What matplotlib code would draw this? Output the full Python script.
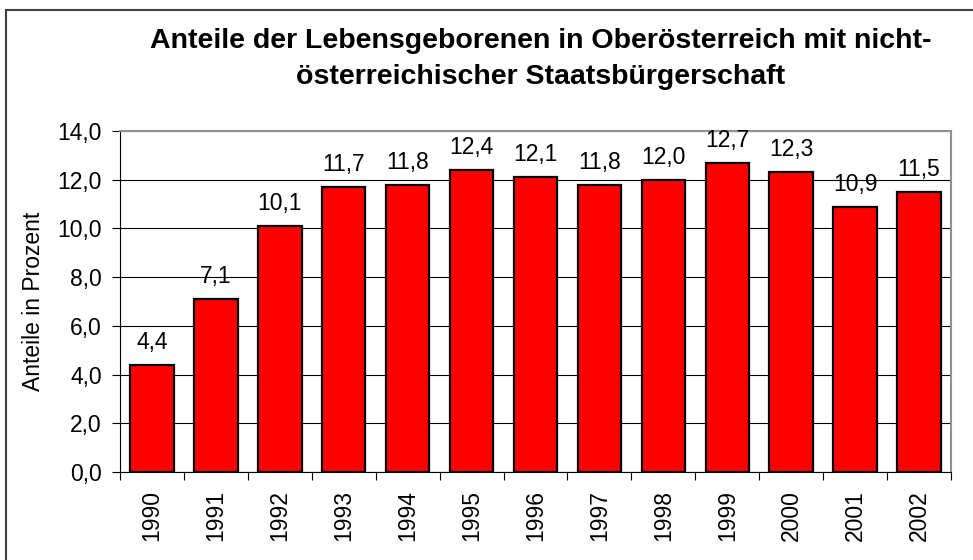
import numpy as np
import matplotlib
matplotlib.use('Agg')
import matplotlib.pyplot as plt
from matplotlib.lines import Line2D

plt.rcParams['font.family'] = ['Liberation Sans', 'DejaVu Sans']

years = ['1990', '1991', '1992', '1993', '1994', '1995', '1996',
         '1997', '1998', '1999', '2000', '2001', '2002']
anteile = [4.4, 7.1, 10.1, 11.7, 11.8, 12.4, 12.1, 11.8, 12.0, 12.7, 12.3, 10.9, 11.5]
yticks = [0, 2, 4, 6, 8, 10, 12, 14]

title = ('Anteile der Lebensgeborenen in Oberösterreich mit nicht-\n'
         'österreichischer Staatsbürgerschaft')


def komma(v):
    return f'{v:.1f}'.replace('.', ',')


fs = 16.5

fig = plt.figure(figsize=(9.73, 5.6), dpi=100)
ax = fig.add_axes([0.1233, 0.1571, 0.8541, 0.6089])

x = np.arange(len(years))
ax.bar(x, anteile, width=0.68, color='#ff0000', edgecolor='black',
       linewidth=1.6, zorder=3)

for xi, v in zip(x, anteile):
    ax.annotate(komma(v), (xi, v), xytext=(0, 11.5), textcoords='offset points',
                ha='center', va='baseline', fontsize=fs)

ax.set_xlim(-0.5, len(years) - 0.5)
ax.set_ylim(0, 14)
ax.set_yticks(yticks)
ax.set_yticklabels([komma(t) for t in yticks], fontsize=fs)
ax.yaxis.grid(True, color='black', linewidth=0.8, zorder=0)

ax.set_xticks(x)
ax.set_xticklabels(years, rotation=90, fontsize=fs)
ax.set_xticks(np.arange(len(years) + 1) - 0.5, minor=True)
ax.tick_params(axis='x', which='major', length=0, pad=13)
ax.tick_params(axis='x', which='minor', length=6, width=0.8, color='black')
ax.tick_params(axis='y', length=6, width=0.8, pad=7)

ax.set_ylabel('Anteile in Prozent', fontsize=fs, labelpad=9)

for s in ['top', 'right']:
    ax.spines[s].set_color('#909090')
    ax.spines[s].set_linewidth(1.5)
for s in ['left', 'bottom']:
    ax.spines[s].set_color('black')
    ax.spines[s].set_linewidth(0.8)

fig.text(0.556, 0.894, title, ha='center', va='center', fontsize=20.5,
         fontweight='bold', linespacing=1.5)

# Rahmen um das Diagramm (oben und links sichtbar)
fig.add_artist(Line2D([0.0062, 1.0], [0.982, 0.982], color='#404040', linewidth=1.5))
fig.add_artist(Line2D([0.0062, 0.0062], [0.0, 0.982], color='#404040', linewidth=1.5))

plt.savefig('out.png', dpi=100)
